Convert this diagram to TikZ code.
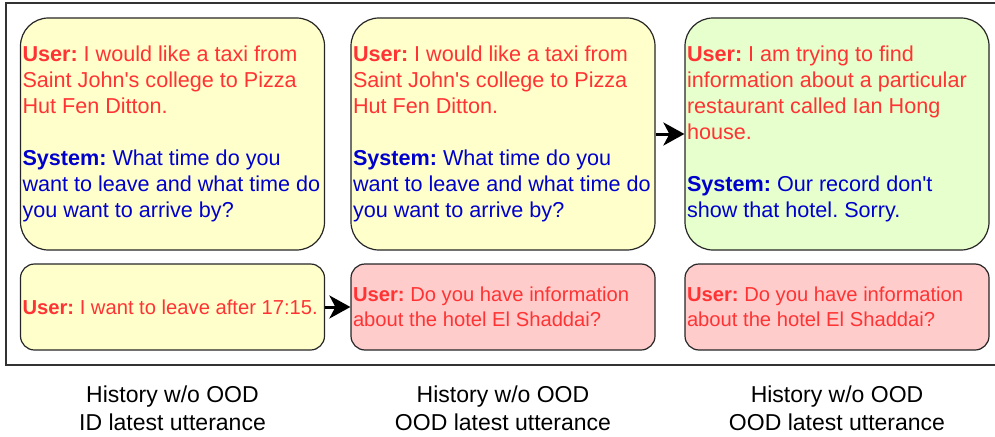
\documentclass[tikz,border=0pt]{standalone}
\usepackage{fontspec}
\setmainfont{Liberation Sans}
\usetikzlibrary{arrows.meta}
\definecolor{usercol}{RGB}{255,51,51}
\definecolor{syscol}{RGB}{0,0,204}
\definecolor{idfill}{RGB}{255,255,204}
\definecolor{histfill}{RGB}{230,255,204}
\definecolor{oodfill}{RGB}{255,204,204}
\newcommand{\usr}[1]{\textcolor{usercol}{\textbf{User:} #1}}
\newcommand{\sys}[1]{\textcolor{syscol}{\textbf{System:} #1}}

\begin{document}
\begin{tikzpicture}[x=1pt, y=-1pt,
    turn/.style={draw=black!85, line width=1.2pt, inner sep=2pt, text width=300pt, align=flush left},
    tallturn/.style={turn, rounded corners=28pt, minimum height=232pt, font=\fontsize{21.6}{26}\selectfont\frenchspacing},
    shortturn/.style={turn, rounded corners=14pt, minimum height=86pt, font=\fontsize{20.2}{25}\selectfont\frenchspacing},
    colcap/.style={align=center, font=\fontsize{23}{28}\selectfont},
    flow/.style={line width=3pt, -{Stealth[length=21pt, width=23pt, inset=6pt]}}]
    \useasboundingbox (0,0) rectangle (995,436);
    \draw[line width=1.3pt, black!80] (1000,3) -- (6,3) -- (6,365) -- (1000,365);

    \node[tallturn, fill=idfill] (hist1) at (172.5,134) {\usr{I would like a taxi from\\Saint John\textquotesingle s college to Pizza\\Hut Fen Ditton.}\\[26pt]\sys{What time do you\\want to leave and what time do\\you want to arrive by?}};
    \node[tallturn, fill=idfill] (hist2) at (503,134) {\usr{I would like a taxi from\\Saint John\textquotesingle s college to Pizza\\Hut Fen Ditton.}\\[26pt]\sys{What time do you\\want to leave and what time do\\you want to arrive by?}};
    \node[tallturn, fill=histfill] (hist3) at (837,134) {\usr{I am trying to find\\information about a particular\\restaurant called Ian Hong\\house.}\\[26pt]\sys{Our record don\textquotesingle t\\show that hotel. Sorry.}};

    \node[shortturn, fill=idfill] (last1) at (172.5,307) {\usr{I want to leave after 17:15.}};
    \node[shortturn, fill=oodfill] (last2) at (503,307) {\usr{Do you have information\\about the hotel El Shaddai?}};
    \node[shortturn, fill=oodfill] (last3) at (837,307) {\usr{Do you have information\\about the hotel El Shaddai?}};

    \draw[flow] (hist2.east) -- (hist3.west);
    \draw[flow] (last1.east) -- (last2.west);

    \node[colcap] (cap1) at (172.5,408) {History w/o OOD\\ID latest utterance};
    \node[colcap] (cap2) at (503,408) {History w/o OOD\\OOD latest utterance};
    \node[colcap] (cap3) at (837,408) {History w/o OOD\\OOD latest utterance};
\end{tikzpicture}
\end{document}
